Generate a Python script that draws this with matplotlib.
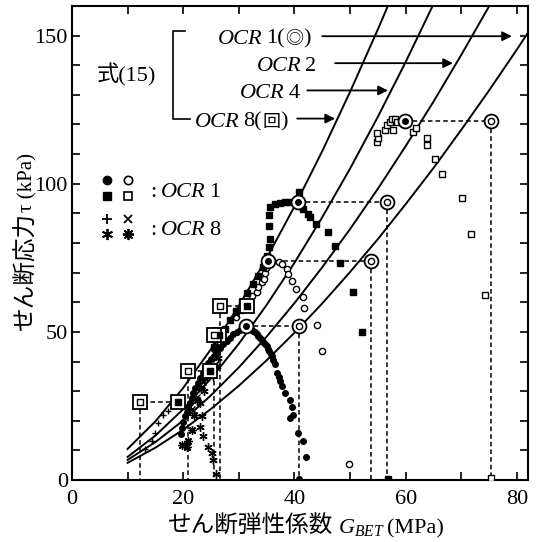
import matplotlib
matplotlib.use('Agg')
import matplotlib.pyplot as plt
from matplotlib.ticker import MultipleLocator
from matplotlib.transforms import offset_copy

plt.rcParams['font.family'] = ['Liberation Serif', 'Noto Sans CJK JP']
plt.rcParams['mathtext.fontset'] = 'custom'
plt.rcParams['mathtext.rm'] = 'Liberation Serif'
plt.rcParams['mathtext.it'] = 'Liberation Serif:italic'

# Eq.(15) curves: G_BET (MPa) -> tau (kPa)
ocr8_g = [10, 15, 20, 25, 30, 35, 40, 45, 50, 55, 57]
ocr8_t = [10.5, 19.8, 31.1, 44.2, 58.8, 74.9, 92.3, 111.0, 131.0, 152.1, 160.9]
ocr4_g = [10, 15, 20, 25, 30, 35, 40, 45, 50, 55, 60, 65]
ocr4_t = [7.8, 15.0, 23.9, 34.3, 46.0, 59.1, 73.3, 88.7, 105.1, 122.6, 141.1, 160.6]
ocr2_g = [10, 15, 20, 25, 30, 35, 40, 45, 50, 55, 60, 65, 70, 75]
ocr2_t = [6.8, 12.8, 20.1, 28.6, 38.0, 48.4, 59.7, 71.8, 84.7, 98.3, 112.7, 127.7, 143.5, 159.9]
ocr1_g = [10, 15, 20, 25, 30, 35, 40, 45, 50, 55, 60, 65, 70, 75, 80, 82]
ocr1_t = [5.8, 10.9, 17.0, 24.0, 31.8, 40.4, 49.7, 59.6, 70.2, 81.3, 93.1, 105.3, 118.2, 131.5, 145.3, 151.0]

# OCR 1 tests
fc_g = [19.6, 19.8, 20.0, 20.3, 20.6, 20.9, 21.2, 21.5, 21.8, 22.2, 22.7, 23.1, 23.6, 24.0,
        24.5, 25.0, 25.5, 26.0, 26.6, 27.2, 27.8, 28.4, 29.0, 29.6, 30.2, 30.8, 31.3,
        31.7, 32.0, 32.3, 32.6, 32.9, 33.2, 33.5, 33.8, 34.1, 34.4, 34.7, 35.0, 35.3, 35.5,
        35.7, 35.9, 36.2, 36.5, 36.9, 37.2, 37.4, 37.7,
        38.3, 39.2, 39.5, 39.8, 39.2, 40.7, 41.6, 42.1, 40.8]
fc_t = [15.5, 17.5, 19.5, 21.5, 23.0, 24.5, 26.0, 27.7, 29.4, 31.0, 32.8, 34.5, 36.2, 37.8,
        39.5, 40.8, 42.0, 43.3, 44.6, 45.8, 46.9, 48.0, 49.2, 50.0, 50.8, 51.5, 51.9,
        51.6, 51.2, 50.8, 50.3, 49.8, 49.2, 48.6, 48.0, 47.3, 46.6, 45.9, 45.2, 44.3, 43.5,
        42.7, 41.8, 40.4, 39.0, 36.2, 34.7, 33.3, 31.6,
        29.4, 27.1, 24.8, 22.0, 20.9, 15.8, 13.0, 7.9, 0.5]
oc_g = [29.5, 30.5, 31.5, 32.3, 33.2, 33.5, 34.1, 34.5, 34.7, 34.9, 35.3,
        37.2, 37.7, 38.6, 38.9, 39.5, 40.3, 41.5, 41.8, 44.0, 44.9, 49.9]
oc_t = [55.0, 57.5, 60.0, 62.0, 63.3, 65.0, 66.7, 67.8, 70.0, 71.5, 74.0,
        73.6, 72.9, 71.2, 69.5, 67.2, 64.4, 61.9, 57.9, 52.4, 43.6, 5.4]
fs_g = [25.5, 26.5, 27.5, 28.5, 29.5, 30.5, 31.5, 32.5, 33.5, 34.3, 35.0, 35.4, 35.6,
        35.5, 35.5, 35.6, 36.5, 37.4, 38.3, 39.2, 40.8,
        41.6, 42.5, 42.8, 43.9, 46.1, 47.3, 48.2, 50.5, 52.2, 56.8]
fs_t = [45.0, 48.0, 51.0, 54.0, 57.0, 60.0, 63.0, 66.0, 69.0, 72.0, 75.5, 78.5, 81.4,
        85.7, 89.3, 92.1, 93.2, 93.6, 93.9, 93.9, 97.2,
        91.5, 89.8, 88.7, 86.4, 83.8, 79.1, 73.1, 63.6, 49.9, 0.5]
os_g = [54.8, 55.1, 54.8, 56.3, 56.6, 57.2, 57.5, 58.1, 58.4, 57.8, 59.9,
        61.4, 61.9, 63.8, 63.8, 65.2, 66.5, 70.2, 71.8, 74.3, 75.4]
os_t = [114.1, 115.5, 117.2, 118.1, 119.8, 120.9, 122.0, 121.7, 120.9, 118.1, 121.2,
        117.5, 118.9, 115.5, 113.0, 108.5, 103.4, 95.3, 83.1, 62.5, 0.8]

# OCR 8 tests
pl_g = [13.2, 14.3, 15.0, 15.5, 16.4, 17.3, 18.2]
pl_t = [10.5, 13.0, 16.0, 19.2, 22.0, 23.2, 25.0]
cr_g = [21.5, 22.5, 23.5, 24.5, 25.5, 26.5, 27.5, 28.5, 29.5, 30.5]
cr_t = [24.0, 28.0, 33.0, 38.0, 43.0, 47.0, 51.0, 54.0, 56.0, 58.0]
a6_g = [25.9, 25.4, 25.1, 24.5, 23.6, 23.0, 23.3, 23.0, 23.8, 25.4, 26.0, 26.3, 25.7]
a6_t = [2.0, 6.8, 9.0, 11.3, 14.7, 18.0, 21.5, 26.0, 30.0, 35.0, 38.4, 41.2, 45.2]
a8_g = [19.7, 20.6, 20.9, 21.5, 22.0, 22.5, 23.2, 24.0]
a8_t = [11.9, 11.3, 13.0, 17.0, 22.0, 27.0, 31.0, 34.5]

# peak points and initial moduli
ocr1_peak_g = [31.3, 35.3, 40.7, 59.9]
ocr1_peak_t = [51.9, 74.0, 94.0, 121.2]
ocr1_g0 = [40.8, 53.8, 56.7, 75.4]
ocr8_peak_g = [19.1, 24.8, 26.4, 31.4]
ocr8_peak_t = [26.2, 36.9, 48.8, 58.7]
ocr8_g0 = [12.2, 20.8, 25.5, 26.7]

fig = plt.figure(figsize=(5.37, 5.42), dpi=100)
ax = fig.add_axes([72 / 537, 1 - 480 / 542, 456 / 537, 474 / 542])
ax.set_xlim(0, 82)
ax.set_ylim(0, 160)

for g, t in [(ocr8_g, ocr8_t), (ocr4_g, ocr4_t), (ocr2_g, ocr2_t), (ocr1_g, ocr1_t)]:
    ax.plot(g, t, color='k', lw=1.4, zorder=2)

dash = dict(color='k', lw=1.1, ls=(0, (3, 2)), zorder=1)
for pg, pt, g0 in zip(ocr1_peak_g + ocr8_peak_g, ocr1_peak_t + ocr8_peak_t, ocr1_g0 + ocr8_g0):
    ax.plot([pg, g0], [pt, pt], **dash)
    ax.plot([g0, g0], [pt, 0], **dash)

ax.plot(fc_g, fc_t, 'o', ms=4, color='k', zorder=3)
ax.plot(oc_g, oc_t, 'o', ms=4.5, mfc='white', mec='k', mew=1.0, zorder=3)
ax.plot(fs_g, fs_t, 's', ms=4.5, color='k', zorder=3)
ax.plot(os_g, os_t, 's', ms=5, mfc='white', mec='k', mew=1.0, zorder=3)
ax.plot(pl_g, pl_t, '+', ms=5, color='k', mew=1.0, zorder=3)
ax.plot(cr_g, cr_t, 'x', ms=4, color='k', mew=1.0, zorder=3)
ax.plot(a6_g, a6_t, ls='none', marker=(6, 2, 0), ms=6, color='k', mew=1.0, zorder=3)
ax.plot(a8_g, a8_t, ls='none', marker=(8, 2, 0), ms=6, color='k', mew=1.0, zorder=3)

# double circles / double squares
ring = dict(ls='none', ms=10, mfc='white', mec='k', mew=1.3, zorder=4)
ax.plot(ocr1_peak_g, ocr1_peak_t, 'o', **ring)
ax.plot(ocr1_peak_g, ocr1_peak_t, 'o', ms=4, color='k', zorder=5)
ax.plot(ocr1_g0, ocr1_peak_t, 'o', **ring)
ax.plot(ocr1_g0, ocr1_peak_t, 'o', ms=4.5, mfc='white', mec='k', mew=1.0, zorder=5)
ax.plot(ocr8_peak_g, ocr8_peak_t, 's', **ring)
ax.plot(ocr8_peak_g, ocr8_peak_t, 's', ms=4, color='k', zorder=5)
ax.plot(ocr8_g0, ocr8_peak_t, 's', **ring)
ax.plot(ocr8_g0, ocr8_peak_t, 's', ms=4.5, mfc='white', mec='k', mew=1.0, zorder=5)

ax.xaxis.set_major_locator(MultipleLocator(20))
ax.xaxis.set_minor_locator(MultipleLocator(10))
ax.yaxis.set_major_locator(MultipleLocator(50))
ax.yaxis.set_minor_locator(MultipleLocator(10))
ax.tick_params(which='both', direction='in', top=True, right=True, length=6, width=1.2,
               labelsize=16)
ax.tick_params(axis='x', pad=7)
ax.tick_params(axis='y', pad=3)
for s in ax.spines.values():
    s.set_linewidth(1.5)

renderer = fig.canvas.get_renderer()


def put_run(x, y, parts, transform, size):
    # consecutive text pieces on one baseline
    dx = 0.0
    for s, kw, gap in parts:
        tr = offset_copy(transform, fig=fig, x=dx, y=0, units='dots')
        t = fig.text(x, y, s, transform=tr, fontsize=kw.pop('size', size),
                     va='baseline', ha='left', **kw)
        dx += t.get_window_extent(renderer).width + gap


ital = {'family': 'Liberation Serif', 'style': 'italic'}
sym = {'family': 'Noto Sans CJK JP', 'size': 13}
put_run(4.5, 134.6, [('式(15)', {}, 0)], ax.transData, 16)
put_run(26.2, 147.3, [('OCR', dict(ital), 4), ('1(', {}, 0), ('◎', dict(sym), 0), (')', {}, 0)],
        ax.transData, 16)
put_run(33.2, 137.9, [('OCR', dict(ital), 4), ('2', {}, 0)], ax.transData, 16)
put_run(30.2, 128.8, [('OCR', dict(ital), 4), ('4', {}, 0)], ax.transData, 16)
put_run(22.1, 119.3, [('OCR', dict(ital), 4), ('8(', {}, 0), ('回', dict(sym), 0), (')', {}, 0)],
        ax.transData, 16)
put_run(14.0, 95.6, [(':', {}, 5), ('OCR', dict(ital), 4), ('1', {}, 0)], ax.transData, 16)
put_run(14.0, 82.7, [(':', {}, 5), ('OCR', dict(ital), 4), ('8', {}, 0)], ax.transData, 16)

# bracket for Eq.(15)
ax.plot([20.3, 18.1, 18.1, 21.2], [151.6, 151.6, 121.7, 121.7], color='k', lw=1.2)

arrow = dict(arrowstyle='-|>', color='k', lw=1.3, mutation_scale=14, shrinkA=0, shrinkB=0)
for tail, tip in [((45.0, 149.8), (79.1, 149.8)), ((47.3, 140.7), (68.5, 140.7)),
                  ((42.3, 131.5), (56.8, 131.5)), ((40.5, 122.0), (47.3, 122.0))]:
    ax.annotate('', xy=tip, xytext=tail, arrowprops=arrow)

# legend keys
ax.plot(6.35, 101.1, 'o', ms=6, color='k')
ax.plot(10.1, 101.1, 'o', ms=6, mfc='white', mec='k', mew=1.2)
ax.plot(6.35, 96.0, 's', ms=6, color='k')
ax.plot(10.1, 96.0, 's', ms=6, mfc='white', mec='k', mew=1.2)
ax.plot(6.35, 88.1, '+', ms=7, color='k', mew=1.3)
ax.plot(10.1, 88.1, 'x', ms=5.5, color='k', mew=1.3)
ax.plot(6.35, 83.1, ls='none', marker=(6, 2, 0), ms=8, color='k', mew=1.3)
ax.plot(10.1, 83.1, ls='none', marker=(8, 2, 0), ms=8, color='k', mew=1.3)

# axis titles
fig.text(26 / 537, 1 - 271 / 542, 'せん断応力', rotation=90, ha='center', va='center',
         fontsize=17, family='Noto Sans CJK JP')
fig.text(28 / 537, 1 - 182 / 542, 'τ (kPa)', rotation=90, ha='center', va='center',
         fontsize=15)
put_run(168 / 537, 1 - 533 / 542,
        [('せん断弾性係数', {'family': 'Noto Sans CJK JP', 'size': 17}, 5),
         ('$G_{BET}$', {}, 2), ('(MPa)', {}, 0)], fig.transFigure, 16)

fig.savefig('out.png', dpi=100)
